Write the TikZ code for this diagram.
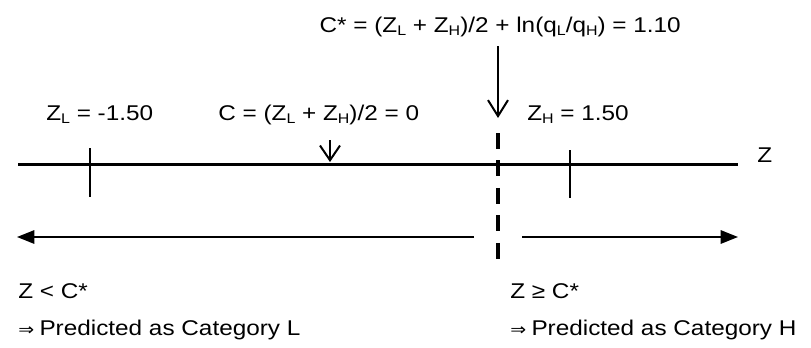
\documentclass[tikz,border=0pt]{standalone}
\usepackage{fontspec}
\setmainfont[FakeStretch=1.14]{Liberation Sans}
\newfontfamily\symfont[FakeStretch=1.14]{DejaVu Sans}
\usetikzlibrary{arrows.meta}
\newcommand\subx[1]{\raisebox{-0.3ex}{\fontsize{10.5pt}{10.5pt}\selectfont #1}}
\begin{document}
\begin{tikzpicture}[x=0.75pt,y=-0.75pt,
  lbl/.style={font=\fontsize{16pt}{19pt}\selectfont, inner sep=0pt, anchor=base west},
  axis/.style={line width=2.25pt},
  tick/.style={line width=1.1pt},
  vee/.style={line width=1.5pt, -{Straight Barb[length=12pt,width=15pt,line width=1.5pt]}},
  smallvee/.style={line width=1.5pt, -{Straight Barb[length=11pt,width=15pt,line width=1.5pt]}},
  thresh/.style={line width=3pt, dash pattern=on 12pt off 8.6pt},
  region/.style={line width=1.5pt, -{Triangle[length=13pt,width=10pt]}}]
\useasboundingbox (0,0) rectangle (811,347);
% axis
\coordinate (a0) at (18,164);
\coordinate (a1) at (738,164);
\draw[axis] (a0) -- (a1);
% ticks
\coordinate (tl0) at (90,148); \coordinate (tl1) at (90,197);
\coordinate (th0) at (570,150); \coordinate (th1) at (570,198);
\draw[tick] (tl0) -- (tl1);
\draw[tick] (th0) -- (th1);
% labels
\node[lbl, anchor=base east] (cstar) at (681,32) {C* = (Z\subx{L} + Z\subx{H})/2 + ln(q\subx{L}/q\subx{H}) = 1.10};
\node[lbl] (zl) at (46,120) {Z\subx{L} = -1.50};
\node[lbl] (c) at (218,120) {C = (Z\subx{L} + Z\subx{H})/2 = 0};
\node[lbl] (zh) at (527,120) {Z\subx{H} = 1.50};
\node[lbl] (z) at (757,162) {Z};
\node[lbl] (lt) at (18,298) {Z < C*};
\node[lbl] (ge) at (510,298) {Z ≥ C*};
\node[lbl] (pl) at (18,335) {{\symfont\fontsize{12.5pt}{13pt}\selectfont ⇒}\hspace{4pt}Predicted as Category L};
\node[lbl] (ph) at (510,335) {{\symfont\fontsize{12.5pt}{13pt}\selectfont ⇒}\hspace{4pt}Predicted as Category H};
% arrows
\coordinate (cs0) at (498,46); \coordinate (cs1) at (498,118);
\draw[vee] (cs0) -- (cs1);
\coordinate (c0) at (330,140); \coordinate (c1) at (330,162);
\draw[smallvee] (c0) -- (c1);
% threshold
\coordinate (d0) at (498,133); \coordinate (d1) at (498,262);
\draw[thresh] (d0) -- (d1);
% regions
\coordinate (l0) at (474,237); \coordinate (l1) at (17,237);
\coordinate (r0) at (522,237); \coordinate (r1) at (738,237);
\draw[region] (l0) -- (l1);
\draw[region] (r0) -- (r1);
\end{tikzpicture}
\end{document}
